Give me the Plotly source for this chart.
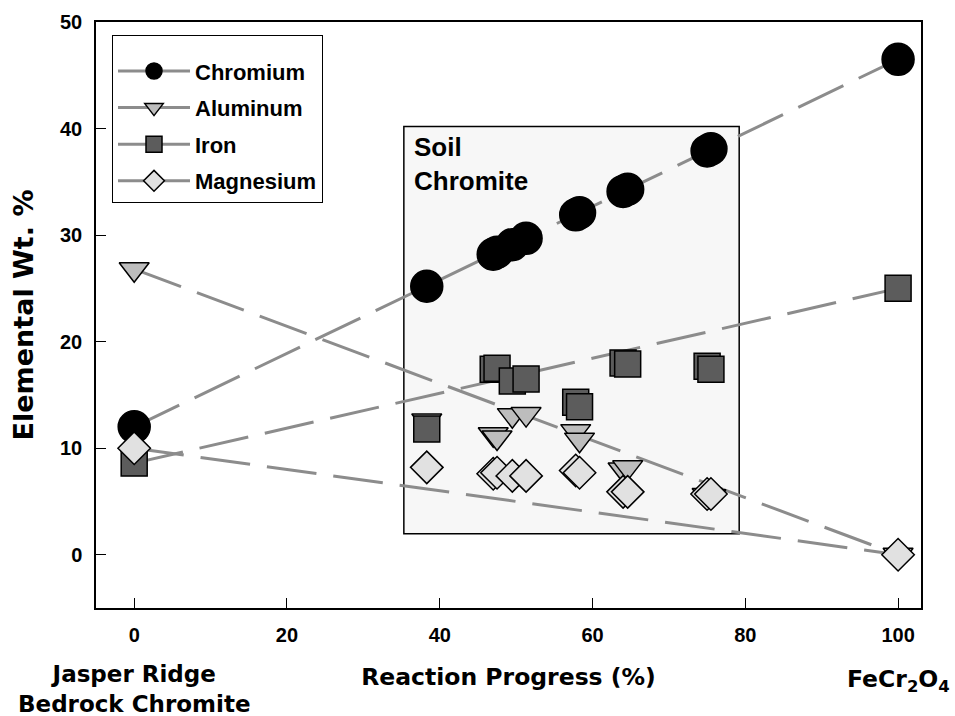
import plotly.graph_objects as go

# ---- data ----
progress = [0, 38.3, 47.0, 47.5, 49.5, 51.3, 57.8, 58.3, 64.0, 64.6, 75.0, 75.5, 100]
chromium = [12.0, 25.2, 28.2, 28.4, 29.1, 29.7, 31.9, 32.1, 34.1, 34.3, 37.9, 38.1, 46.5]
aluminum = [26.8, 12.6, 11.3, 11.0, 13.1, 13.2, 11.6, 10.8, 8.0, 8.2, 5.6, 5.5, 0.0]
iron = [8.6, 11.8, 17.4, 17.5, 16.3, 16.5, 14.3, 13.9, 18.0, 17.9, 17.7, 17.4, 25.0]
magnesium = [10.0, 8.2, 7.6, 7.7, 7.4, 7.4, 7.9, 7.7, 5.9, 5.9, 5.7, 5.7, 0.0]

series_names = ["Chromium", "Aluminum", "Iron", "Magnesium"]
x_ticks = [0, 20, 40, 60, 80, 100]
y_ticks = [0, 10, 20, 30, 40, 50]

# soil chromite field (x from, x to, y from, y to)
soil_box = (35.3, 79.2, 1.97, 40.2)

series = [chromium, aluminum, iron, magnesium]
symbols = ["circle", "triangle-down", "square", "diamond"]
fills = ["#000000", "#bdbdbd", "#5c5c5c", "#e1e1e1"]
sizes = [32, 26, 26, 25]

LINE_COLOR = "#8c8c8c"
AX_FONT = "Liberation Sans, Arial, sans-serif"
WIDE_FONT = "DejaVu Sans, sans-serif"

fig = go.Figure()

# mixing lines between the two end members
for vals in series:
    fig.add_trace(go.Scatter(
        x=[progress[0], progress[-1]], y=[vals[0], vals[-1]],
        mode="lines", showlegend=False, hoverinfo="skip",
        line=dict(color=LINE_COLOR, width=3, dash="50px,17px"),
    ))

# sample markers
for name, vals, sym, fc, sz in zip(series_names, series, symbols, fills, sizes):
    fig.add_trace(go.Scatter(
        x=progress, y=vals, mode="markers", name=name, showlegend=False,
        marker=dict(symbol=sym, size=sz, color=fc,
                    line=dict(color="black", width=1.5)),
    ))

# legend entries (line + marker)
for name, sym, fc in zip(series_names, symbols, fills):
    fig.add_trace(go.Scatter(
        x=[None], y=[None], mode="lines+markers", name=name,
        legendgroup=name,
        line=dict(color=LINE_COLOR, width=3),
        marker=dict(symbol=sym, size=16, color=fc,
                    line=dict(color="black", width=1.5)),
    ))

fig.add_shape(type="rect", xref="x", yref="y",
              x0=soil_box[0], x1=soil_box[1], y0=soil_box[2], y1=soil_box[3],
              fillcolor="#f7f7f7", line=dict(color="black", width=1.5),
              layer="below")

fig.add_annotation(x=soil_box[0], y=soil_box[3], xref="x", yref="y",
                   text="Soil<br>Chromite", showarrow=False,
                   xanchor="left", yanchor="top", xshift=8, yshift=-4,
                   align="left",
                   font=dict(family=AX_FONT, size=26, weight="bold", color="black"))

fig.add_annotation(x=0, y=0, xref="x", yref="paper",
                   text="Jasper Ridge<br>Bedrock Chromite", showarrow=False,
                   xanchor="center", yanchor="top", yshift=-51,
                   font=dict(family=WIDE_FONT, size=23, weight="bold", color="black"))
fig.add_annotation(x=100, y=0, xref="x", yref="paper",
                   text="FeCr<sub>2</sub>O<sub>4</sub>", showarrow=False,
                   xanchor="center", yanchor="top", yshift=-55,
                   font=dict(family=WIDE_FONT, size=23.5, weight="bold", color="black"))

fig.update_layout(
    width=955, height=716,
    margin=dict(l=96, r=34, t=22, b=108),
    paper_bgcolor="white", plot_bgcolor="white",
    font=dict(family=AX_FONT, color="black"),
    legend=dict(x=0.0194, y=0.978, xanchor="left", yanchor="top",
                bgcolor="white", bordercolor="black", borderwidth=1,
                font=dict(family=AX_FONT, size=22, weight="bold", color="black"),
                title=dict(text=" ", font=dict(size=11)),
                tracegroupgap=5, itemwidth=72),
    xaxis=dict(range=[-5, 103], tickvals=x_ticks, ticks="inside", ticklen=10,
               tickwidth=1.2, tickcolor="black", showline=True, linecolor="black",
               linewidth=1.5, mirror=True, showgrid=False, zeroline=False,
               tickfont=dict(family=AX_FONT, size=20, weight="bold", color="black"),
               ticklabelstandoff=8,
               title=dict(text="Reaction Progress (%)", standoff=24,
                          font=dict(family=WIDE_FONT, size=23.5, weight="bold",
                                    color="black"))),
    yaxis=dict(range=[-5, 50], tickvals=y_ticks, ticks="inside", ticklen=10,
               tickwidth=1.2, tickcolor="black", showline=True, linecolor="black",
               linewidth=1.5, mirror=True, showgrid=False, zeroline=False,
               tickfont=dict(family=AX_FONT, size=20, weight="bold", color="black"),
               ticklabelstandoff=8,
               title=dict(text="Elemental Wt. %", standoff=19,
                          font=dict(family=WIDE_FONT, size=27, weight="bold",
                                    color="black"))),
)

fig.write_html("out.html")
